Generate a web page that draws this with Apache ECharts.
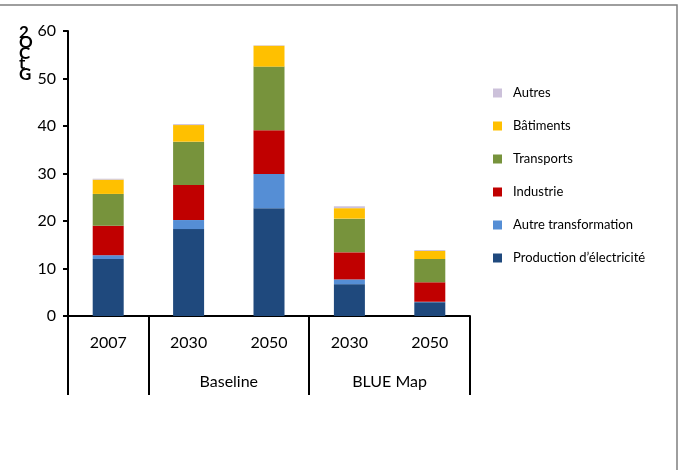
<!DOCTYPE html>
<html><head><meta charset="utf-8">
<script src="https://cdn.jsdelivr.net/npm/echarts@6/dist/echarts.min.js"></script>
<style>html,body{margin:0;padding:0;background:#fff}#c{width:679px;height:470px}</style>
</head><body><div id="c"></div>
<script>
var years = ['2007', '2030', '2050', '2030', '2050'];
var groupSlots = ['', '', '', '', 'Baseline', '', '', '', 'BLUE Map', '', ''];
var yTicks = [0, 10, 20, 30, 40, 50, 60];
var legendOrder = ['Autres', 'Bâtiments', 'Transports', 'Industrie', 'Autre transformation', 'Production d\u2019électricité'];

var production = [12.0, 18.3, 22.7, 6.7, 2.9];
var autreTransfo = [0.8, 1.9, 7.2, 1.0, 0.1];
var industrie = [6.2, 7.4, 9.2, 5.7, 4.1];
var transports = [6.7, 9.1, 13.4, 7.1, 4.9];
var batiments = [3.0, 3.5, 4.4, 2.2, 1.7];
var autres = [0.2, 0.2, 0.1, 0.4, 0.2];

var seriesDefs = [
  ['Production d\u2019électricité', production, '#1F497D'],
  ['Autre transformation', autreTransfo, '#558ED5'],
  ['Industrie', industrie, '#C00000'],
  ['Transports', transports, '#77933C'],
  ['Bâtiments', batiments, '#FFC000'],
  ['Autres', autres, '#CCC1DA']
];

var FONT = 'Lato, "Open Sans", sans-serif';
var chart = echarts.init(document.getElementById('c'), null, {renderer: 'canvas'});
chart.setOption({
  animation: false,
  backgroundColor: '#fff',
  grid: {left: 68, right: 209, top: 31, bottom: 154, containLabel: false},
  legend: {
    orient: 'vertical', left: 488, top: 80,
    data: legendOrder, icon: 'rect', itemWidth: 9, itemHeight: 9, itemGap: 17,
    selectedMode: false,
    textStyle: {fontFamily: FONT, fontSize: 13, color: '#000', lineHeight: 16, padding: [0, 0, 0, 6]}
  },
  xAxis: [{
    type: 'category', data: years, position: 'bottom',
    axisLine: {lineStyle: {color: '#000', width: 2}},
    axisTick: {length: 40, lineStyle: {color: '#000', width: 2}},
    axisLabel: {margin: 19, fontFamily: FONT, fontSize: 16, color: '#000'}
  }, {
    type: 'category', data: groupSlots, position: 'bottom', boundaryGap: false,
    axisLine: {show: false},
    axisTick: {length: 79, lineStyle: {color: '#000', width: 2},
      interval: function (i) { return i === 0 || i === 2 || i === 6 || i === 10; }},
    axisLabel: {margin: 58, fontFamily: FONT, fontSize: 16, color: '#000',
      interval: function (i) { return i === 4 || i === 8; }}
  }],
  yAxis: {
    type: 'value', min: yTicks[0], max: yTicks[yTicks.length - 1], interval: 10,
    splitLine: {show: false},
    axisLine: {show: true, lineStyle: {color: '#000', width: 2}},
    axisTick: {show: true, length: 5, lineStyle: {color: '#000', width: 2}},
    axisLabel: {margin: 12, fontFamily: FONT, fontSize: 16, color: '#000'}
  },
  graphic: [
    {type: 'rect', shape: {x: -2, y: 5, width: 679, height: 470}, style: {fill: 'none', stroke: '#7f7f7f', lineWidth: 1.5}, z: -1},
    {type: 'text', left: 0, top: -14, style: {text: 'Émissions mondiales de CO2', font: 'bold 14px ' + FONT, fill: '#000'}},
    {type: 'text', left: 19, top: 24, style: {text: '2\nO\nC\nt\nG', font: 'bold 17px ' + FONT, lineHeight: 10.5, fill: '#000', align: 'center'}}
  ],
  series: seriesDefs.map(function (d) {
    return {name: d[0], type: 'bar', stack: 'total', data: d[1], barWidth: 31,
      itemStyle: {color: d[2]}, xAxisIndex: 0};
  })
});
</script></body></html>
